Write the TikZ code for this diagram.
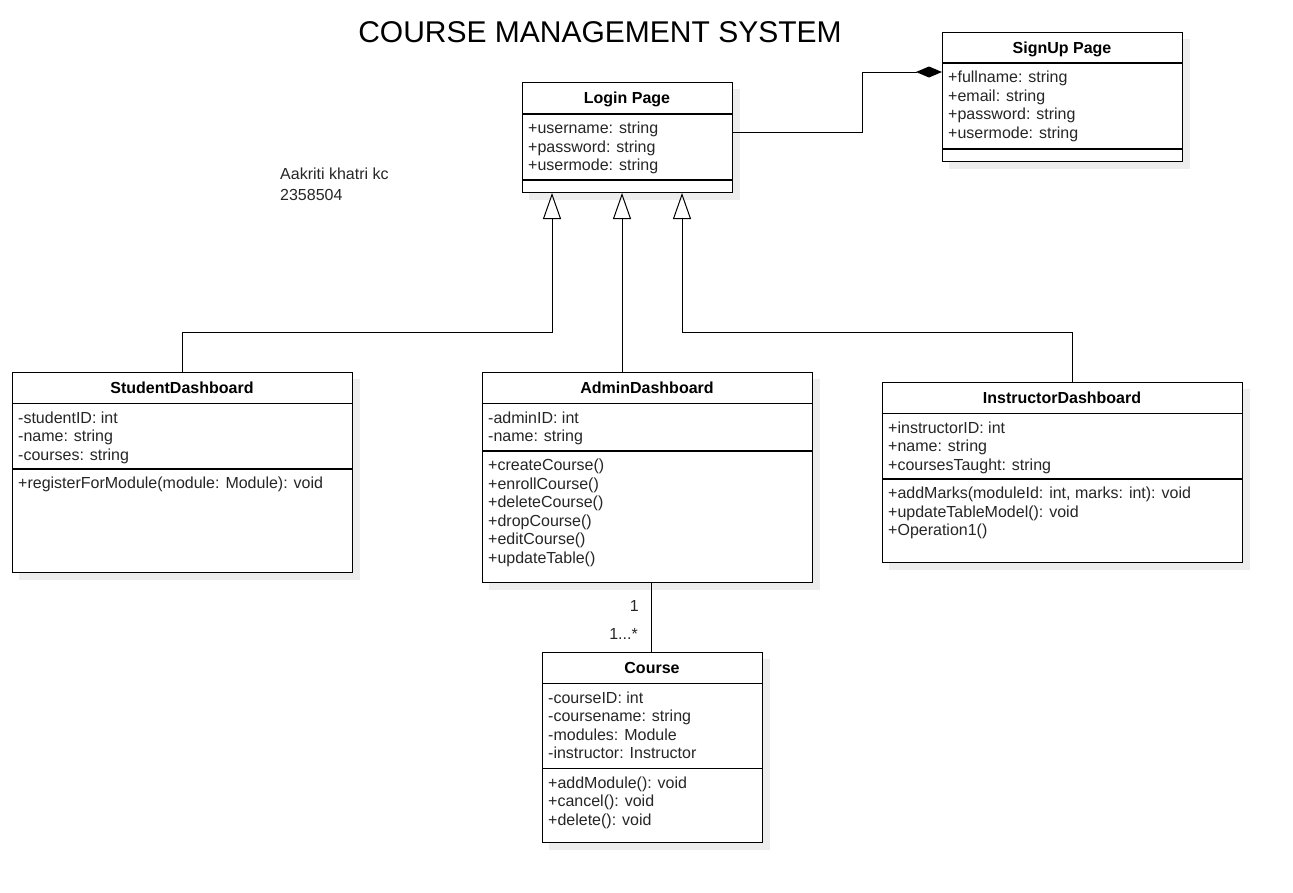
\documentclass[tikz,border=0pt]{standalone}
\usepackage{fontspec}
\setmainfont{Liberation Sans}
\usetikzlibrary{arrows.meta,backgrounds}

\begin{document}
\begin{tikzpicture}[x=1pt,y=-1pt,
        every node/.style={inner sep=0pt},
        classbox/.style={draw=black, line width=1pt, fill=white, anchor=north west},
        classname/.style={font=\fontsize{16}{18.5}\selectfont\bfseries, anchor=base},
        members/.style={font=\fontsize{16}{18.5}\selectfont, text=black!85, anchor=north west, align=left},
        sepline/.style={line width=1.2pt},
        boxshade/.style={fill=black!7},
        link/.style={line width=1pt},
        inherit/.style={link, -{Triangle[open, length=26pt, width=18pt, line width=1pt]}},
        compose/.style={link, -{Diamond[length=26pt, width=11pt]}}]
        \useasboundingbox (0,0) rectangle (1293,892);
        % title and author
        \node[font=\fontsize{30}{36}\selectfont] (title) at (600,32) {COURSE MANAGEMENT SYSTEM};
        \node[font=\fontsize{16}{21}\selectfont, text=black!85, anchor=north west, align=left] (author) at (280,164.3) {\strut Aakriti khatri kc\\2358504};
        % Login Page
        \node[classbox, minimum width=210pt, minimum height=110pt] (login) at (522,82) {};
        \node[classname] (login-name) at (627,103.8) {Login Page};
        \draw[sepline] (login.west |- 0,114) -- (login.east |- 0,114);
        \node[members] (login-attr) at (528,120.5) {\strut+username: string\\+password: string\\+usermode: string};
        \draw[sepline] (login.west |- 0,180) -- (login.east |- 0,180);
        % SignUp Page
        \node[classbox, minimum width=240pt, minimum height=129pt] (signup) at (942,32) {};
        \node[classname] (signup-name) at (1062,53.3) {SignUp Page};
        \draw[sepline] (signup.west |- 0,63) -- (signup.east |- 0,63);
        \node[members] (signup-attr) at (948,69.5) {\strut+fullname: string\\+email: string\\+password: string\\+usermode: string};
        \draw[sepline] (signup.west |- 0,149) -- (signup.east |- 0,149);
        % StudentDashboard
        \node[classbox, minimum width=340pt, minimum height=200pt] (student) at (12,372) {};
        \node[classname] (student-name) at (182,393.8) {StudentDashboard};
        \draw[sepline] (student.west |- 0,403.5) -- (student.east |- 0,403.5);
        \node[members] (student-attr) at (18,410) {\strut-studentID: int\\-name: string\\-courses: string};
        \draw[sepline] (student.west |- 0,469) -- (student.east |- 0,469);
        \node[members] (student-ops) at (18,475.5) {\strut+registerForModule(module: Module): void};
        % AdminDashboard
        \node[classbox, minimum width=330pt, minimum height=210pt] (admin) at (482,372) {};
        \node[classname] (admin-name) at (647,393.8) {AdminDashboard};
        \draw[sepline] (admin.west |- 0,403.5) -- (admin.east |- 0,403.5);
        \node[members] (admin-attr) at (488,410) {\strut-adminID: int\\-name: string};
        \draw[sepline] (admin.west |- 0,451) -- (admin.east |- 0,451);
        \node[members] (admin-ops) at (488,457.5) {\strut+createCourse()\\+enrollCourse()\\+deleteCourse()\\+dropCourse()\\+editCourse()\\+updateTable()};
        % InstructorDashboard
        \node[classbox, minimum width=360pt, minimum height=180pt] (instructor) at (882,382) {};
        \node[classname] (instructor-name) at (1062,403.8) {InstructorDashboard};
        \draw[sepline] (instructor.west |- 0,413.5) -- (instructor.east |- 0,413.5);
        \node[members] (instructor-attr) at (888,420) {\strut+instructorID: int\\+name: string\\+coursesTaught: string};
        \draw[sepline] (instructor.west |- 0,479) -- (instructor.east |- 0,479);
        \node[members] (instructor-ops) at (888,485.5) {\strut+addMarks(moduleId: int, marks: int): void\\+updateTableModel(): void\\+Operation1()};
        % Course
        \node[classbox, minimum width=220pt, minimum height=190pt] (course) at (542,652) {};
        \node[classname] (course-name) at (652,673.8) {Course};
        \draw[sepline] (course.west |- 0,683.5) -- (course.east |- 0,683.5);
        \node[members] (course-attr) at (548,690) {\strut-courseID: int\\-coursename: string\\-modules: Module\\-instructor: Instructor};
        \draw[sepline] (course.west |- 0,768.5) -- (course.east |- 0,768.5);
        \node[members] (course-ops) at (548,775) {\strut+addModule(): void\\+cancel(): void\\+delete(): void};
        % shadows
        \begin{scope}[on background layer]
        \fill[boxshade] ([shift={(7,7)}]login.north west) rectangle ([shift={(7,7)}]login.south east);
        \fill[boxshade] ([shift={(7,7)}]signup.north west) rectangle ([shift={(7,7)}]signup.south east);
        \fill[boxshade] ([shift={(7,7)}]student.north west) rectangle ([shift={(7,7)}]student.south east);
        \fill[boxshade] ([shift={(7,7)}]admin.north west) rectangle ([shift={(7,7)}]admin.south east);
        \fill[boxshade] ([shift={(7,7)}]instructor.north west) rectangle ([shift={(7,7)}]instructor.south east);
        \fill[boxshade] ([shift={(7,7)}]course.north west) rectangle ([shift={(7,7)}]course.south east);
        \end{scope}
        % generalisations
        \draw[inherit] (student.north) |- (552,332) -- (login.south -| 552,0);
        \draw[inherit] (admin.north -| 622,0) -- (login.south -| 622,0);
        \draw[inherit] (instructor.north -| 1072,0) |- (682,332) -- (login.south -| 682,0);
        % composition
        \draw[compose] (login.east |- 0,132) -| (862,72) -- (signup.west |- 0,72);
        % association
        \draw[link] (admin.south -| 651,0) -- (course.north -| 651,0);
        \node[font=\fontsize{16}{18.5}\selectfont, text=black!85, anchor=base east] (one) at (639,611) {1};
        \node[font=\fontsize{16}{18.5}\selectfont, text=black!85, anchor=base east] (many) at (638,639) {1...*};
    \end{tikzpicture}
\end{document}
